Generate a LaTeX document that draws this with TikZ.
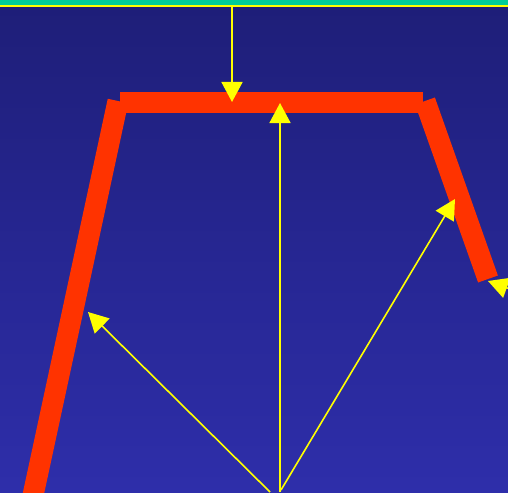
\documentclass[tikz,border=0pt]{standalone}
\usetikzlibrary{arrows.meta}
\definecolor{bgtop}{RGB}{30,30,120}
\definecolor{bgbot}{RGB}{46,46,170}
\definecolor{tealband}{RGB}{0,204,153}
\definecolor{redbar}{RGB}{255,51,0}
\definecolor{yel}{RGB}{255,255,0}
\tikzset{
  redline/.style={draw=redbar,line width=21pt,line cap=butt},
  yarrow/.style={draw=yel,line width=1.6pt,-{Triangle[length=20pt,width=21pt]}}
}
\begin{document}
\begin{tikzpicture}[x=1pt,y=-1pt]
\useasboundingbox (0,0) rectangle (508,492);
\clip (0,0) rectangle (508,492);
\shade[top color=bgtop,bottom color=bgbot] (0,0) rectangle (508,492);
\fill[tealband] (0,0) rectangle (508,5.5);
\fill[yel] (0,5.5) rectangle (508,7.3);
% red polyline
\coordinate (L0) at (32,500);
\coordinate (L1) at (118,101);
\coordinate (H0) at (120,102.5);
\coordinate (H1) at (423,102.5);
\coordinate (R0) at (425,101);
\coordinate (R1) at (488,279);
\draw[redline] (L0) -- (L1);
\draw[redline] (H0) -- (H1);
\draw[redline] (R0) -- (R1);
% yellow arrows
\coordinate (topsrc) at (232,7);
\coordinate (toptip) at (232,102);
\coordinate (base) at (280,492);
\coordinate (baseL) at (270,492);
\coordinate (baseR) at (281,490);
\coordinate (uptip) at (280,103);
\coordinate (lefttip) at (88,312);
\coordinate (righttip) at (455,199);
\coordinate (offR) at (540,300);
\coordinate (rtip) at (488,281);
\draw[yarrow] (topsrc) -- (toptip);
\draw[yarrow] (base) -- (uptip);
\draw[yarrow] (baseL) -- (lefttip);
\draw[yarrow] (baseR) -- (righttip);
\draw[yarrow] (offR) -- (rtip);
\end{tikzpicture}
\end{document}
